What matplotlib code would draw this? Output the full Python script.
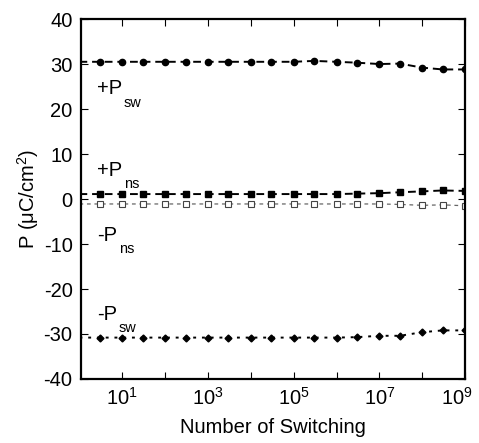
import numpy as np
import matplotlib
matplotlib.use('Agg')
import matplotlib.pyplot as plt
import matplotlib.transforms as mtransforms
from matplotlib.ticker import FixedLocator, FixedFormatter, NullLocator

plt.rcParams['font.family'] = 'Liberation Sans'
plt.rcParams['mathtext.fontset'] = 'custom'
plt.rcParams['mathtext.rm'] = 'Liberation Sans'
plt.rcParams['mathtext.it'] = 'Liberation Sans'
plt.rcParams['axes.unicode_minus'] = False

# number of switching cycles (first entry only starts the line at the axis edge)
cycles = [1, 3, 1e1, 3e1, 1e2, 3e2, 1e3, 3e3, 1e4, 3e4, 1e5, 3e5,
          1e6, 3e6, 1e7, 3e7, 1e8, 3e8, 1e9]

# polarization values (uC/cm2)
p_sw_pos = [30.5, 30.5, 30.5, 30.5, 30.5, 30.5, 30.5, 30.5, 30.5, 30.5, 30.5,
            30.7, 30.5, 30.3, 30.0, 30.1, 29.2, 28.8, 28.8]
p_ns_pos = [1.1, 1.1, 1.1, 1.1, 1.1, 1.1, 1.1, 1.1, 1.1, 1.1, 1.1,
            1.1, 1.1, 1.2, 1.3, 1.5, 1.7, 1.9, 1.8]
p_ns_neg = [-1.1, -1.1, -1.1, -1.1, -1.1, -1.1, -1.1, -1.1, -1.1, -1.1, -1.1,
            -1.1, -1.1, -1.1, -1.1, -1.2, -1.4, -1.3, -1.5]
p_sw_neg = [-30.8, -30.8, -30.8, -30.8, -30.8, -30.8, -30.8, -30.8, -30.8, -30.8, -30.8,
            -30.8, -30.8, -30.7, -30.4, -30.4, -29.6, -29.2, -29.2]

# curve labels: main text, subscript, y position
labels = [('+P', 'sw', 23.3), ('+P', 'ns', 5.1), ('-P', 'ns', -9.3), ('-P', 'sw', -26.9)]

fs = 14.5

fig = plt.figure(figsize=(4.79, 4.43), dpi=100)
ax = fig.add_axes([0.169, 0.1445, 0.802, 0.8125])

marks = slice(1, None)
ax.plot(cycles, p_sw_pos, color='black', lw=1.4, dashes=(4, 2.5),
        marker='o', ms=4.5, markevery=marks)
ax.plot(cycles, p_ns_pos, color='black', lw=1.4, dashes=(4, 2.5),
        marker='s', ms=4.5, markevery=marks)
ax.plot(cycles, p_ns_neg, color='#666666', lw=0.9, dashes=(3, 3),
        marker='s', ms=4.5, mfc='white', mec='#444444', mew=0.8, markevery=marks)
ax.plot(cycles, p_sw_neg, color='black', lw=1.4, dashes=(1.5, 3),
        marker='D', ms=3.5, markevery=marks)

ax.set_xscale('log')
ax.set_xlim(10**0.035, 1e9)
ax.set_ylim(-40, 40)

ax.xaxis.set_major_locator(FixedLocator([10.0**k for k in range(0, 10)]))
ax.xaxis.set_major_formatter(FixedFormatter(
    ['' if k % 2 == 0 else r'$10^{%d}$' % k for k in range(0, 10)]))
ax.xaxis.set_minor_locator(NullLocator())
ax.set_yticks(np.arange(-40, 41, 10))

ax.tick_params(direction='in', length=5, width=0.8, top=True, right=True,
               labelsize=fs, pad=6)
for s in ax.spines.values():
    s.set_linewidth(1.6)

# nudge the 10^9 label left so it stays inside the figure
last = ax.get_xticklabels()[-1]
last.set_transform(last.get_transform() +
                   mtransforms.ScaledTranslation(-6 / 72, 0, fig.dpi_scale_trans))

for main, sub, y in labels:
    t = ax.text(2.6, y, main, fontsize=fs)
    ax.annotate(sub, xy=(1, 0), xycoords=t, xytext=(1, -6),
                textcoords='offset points', fontsize=fs * 0.72, va='baseline')

ax.set_xlabel('Number of Switching', fontsize=fs, labelpad=6)
ax.set_ylabel(r'P ($\mathregular{\mu}$C/cm$^2$)', fontsize=fs, labelpad=2)

fig.savefig('out.png', dpi=100)
